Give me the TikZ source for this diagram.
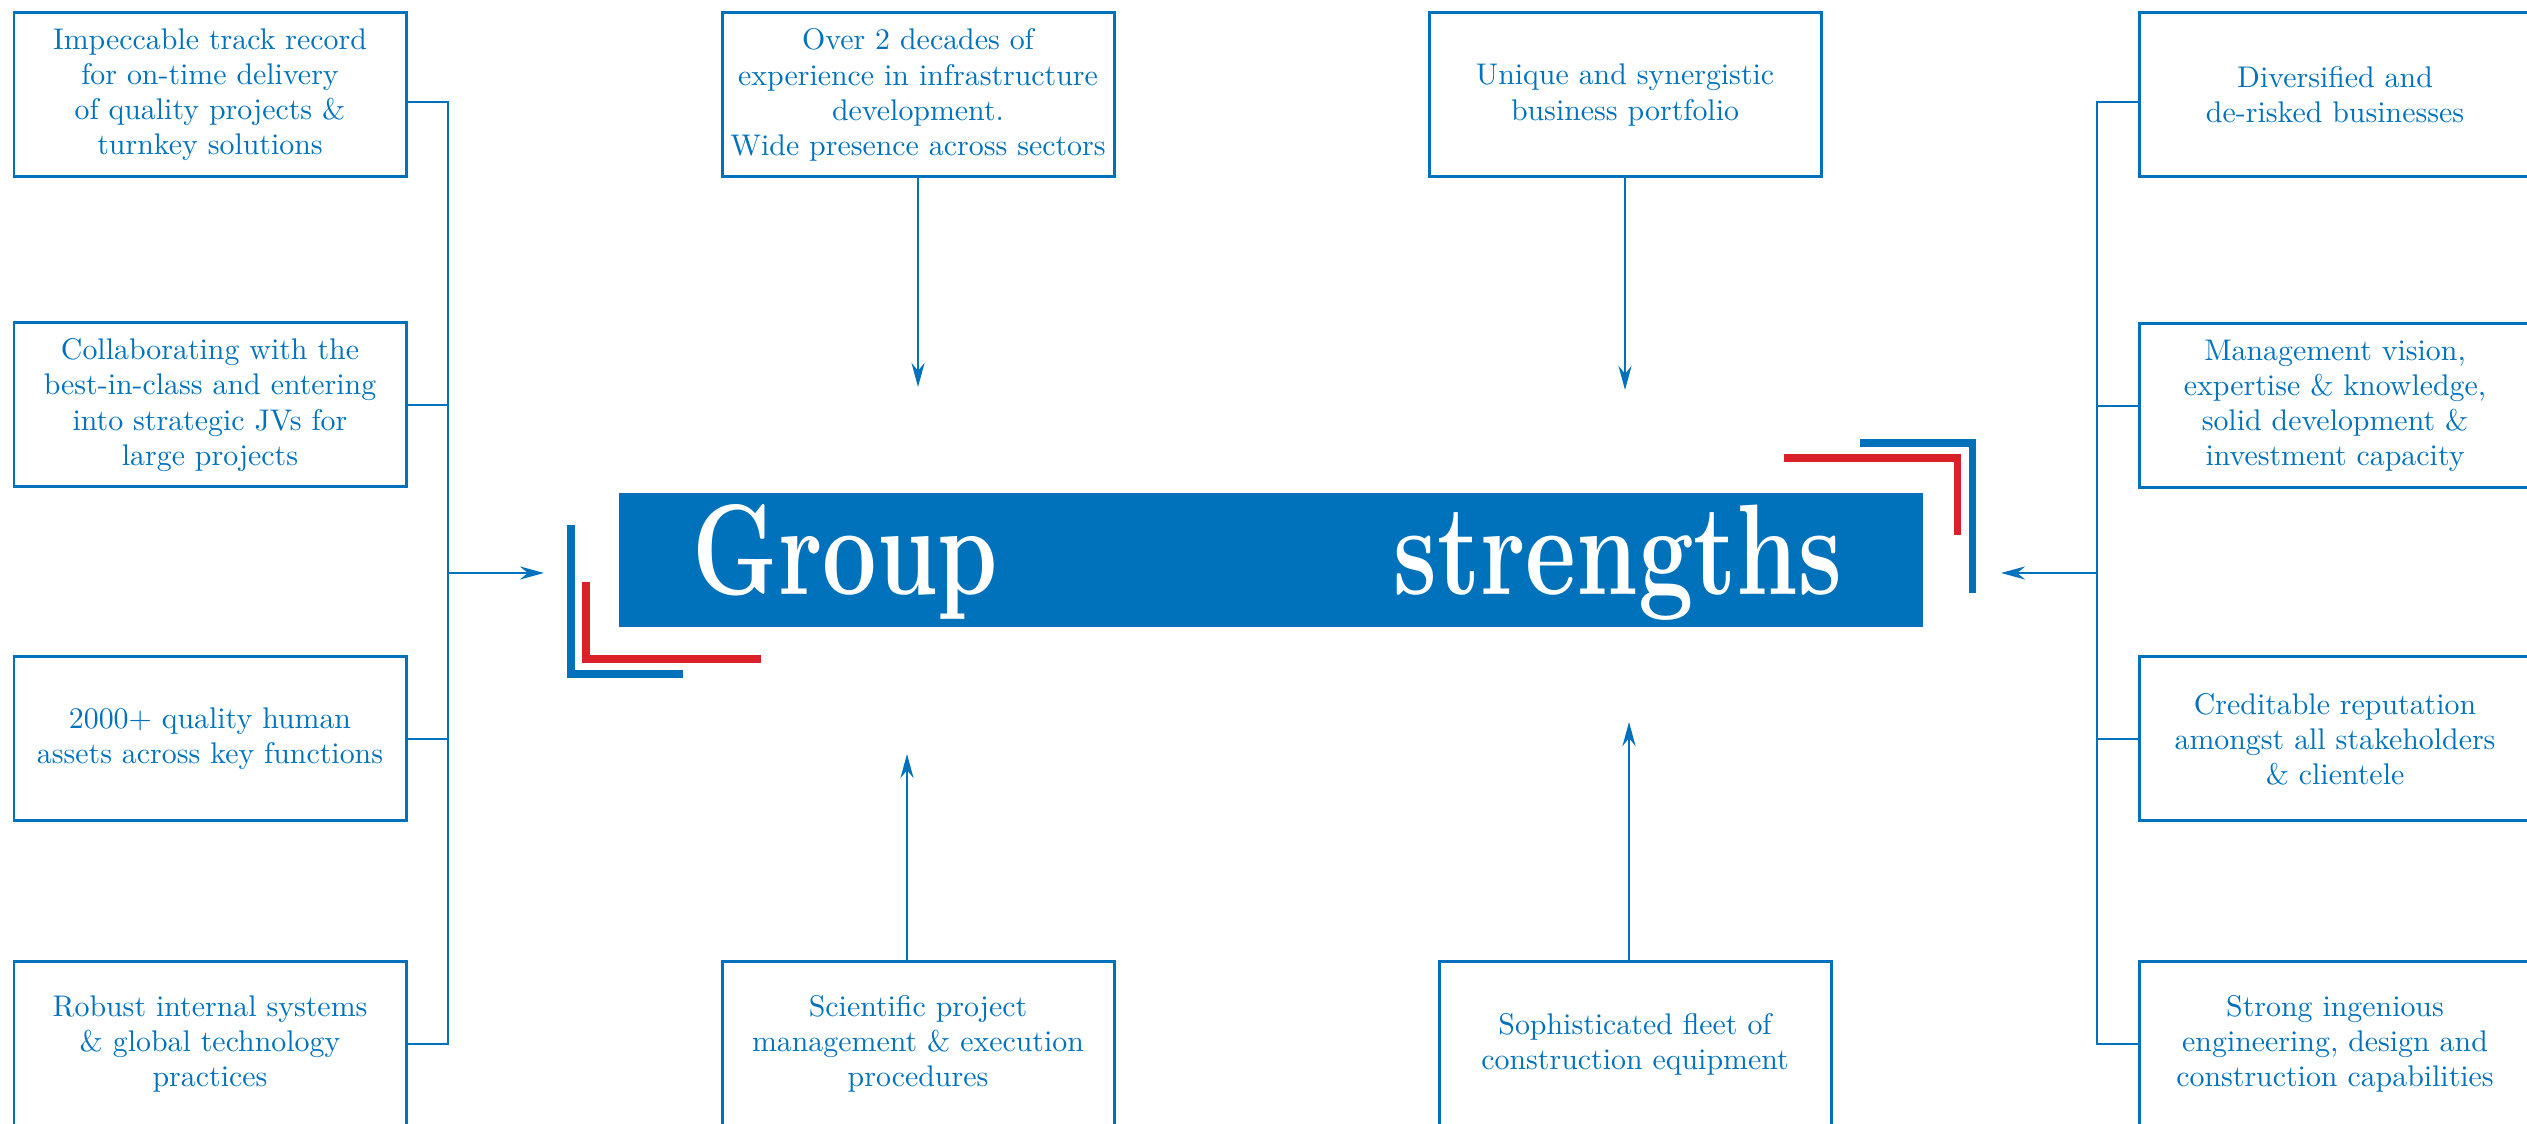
\documentclass[tikz,border=0pt]{standalone}
\usepackage{fontspec}
\usetikzlibrary{arrows.meta}
\newfontfamily\boxfont{lmroman10-regular.otf}
\definecolor{grpblue}{RGB}{0,114,188}
\definecolor{grpred}{RGB}{218,32,40}
\tikzset{
    fact/.style={draw=grpblue, line width=0.85pt, text=grpblue, minimum width=3.92cm, minimum height=1.64cm, inner sep=0pt, align=center, font=\boxfont\fontsize{8.5}{10}\selectfont},
    link/.style={draw=grpblue, line width=0.7pt},
    bracketline/.style={line width=2.1pt, line join=miter},
    bigword/.style={text=white, inner sep=0pt, font=\fontsize{36.7}{40}\selectfont\bfseries}
}
\begin{document}
\begin{tikzpicture}[>={Stealth[length=0.24cm,width=0.13cm]}]
        \useasboundingbox (0,0) rectangle (25.27,11.24);
        \node [fact] (track) at (2.10,10.29) {Impeccable track record\\for on-time delivery\\of quality projects \&\\turnkey solutions};
        \node [fact] (collab) at (2.10,7.19) {Collaborating with the\\best-in-class and entering\\into strategic JVs for\\large projects};
        \node [fact] (people) at (2.10,3.85) {2000+ quality human\\assets across key functions};
        \node [fact] (systems) at (2.10,0.80) {Robust internal systems\\\& global technology\\practices};
        \node [fact] (exp) at (9.18,10.29) {Over 2 decades of\\experience in infrastructure\\development.\\Wide presence across sectors};
        \node [fact] (portfolio) at (16.25,10.29) {Unique and synergistic\\business portfolio};
        \node [fact] (sci) at (9.18,0.80) {Scientific project\\management \& execution\\procedures};
        \node [fact] (fleet) at (16.35,0.80) {Sophisticated fleet of\\construction equipment};
        \node [fact] (diverse) at (23.35,10.29) {Diversified and\\de-risked businesses};
        \node [fact] (vision) at (23.35,7.18) {Management vision,\\expertise \& knowledge,\\solid development \&\\investment capacity};
        \node [fact] (repute) at (23.35,3.85) {Creditable reputation\\amongst all stakeholders\\\& clientele};
        \node [fact] (design) at (23.35,0.80) {Strong ingenious\\engineering, design and\\construction capabilities};
        \node [fill=grpblue, minimum width=13.035cm, minimum height=1.34cm, inner sep=0pt] (bar) at (12.71,5.64) {};
        \node [bigword, anchor=base west] (group) at (6.92,5.29) {\scalebox{0.75}[1]{Group}};
        \node [bigword, anchor=base east] (strengths) at (18.43,5.29) {\scalebox{0.765}[1]{strengths}};
        \draw [bracketline, grpblue] (5.71,5.99) -- (5.71,4.50) -- (6.83,4.50);
        \draw [bracketline, grpred] (5.86,5.42) -- (5.86,4.65) -- (7.61,4.65);
        \draw [bracketline, grpblue] (18.60,6.81) -- (19.725,6.81) -- (19.725,5.31);
        \draw [bracketline, grpred] (17.84,6.66) -- (19.575,6.66) -- (19.575,5.885);
        \coordinate (lhub) at (4.48,5.51);
        \coordinate (lend) at (5.44,5.51);
        \coordinate (rhub) at (20.97,5.51);
        \coordinate (rend) at (20.01,5.51);
        \draw [link] ([yshift=-0.07cm]track.east) -| (lhub) |- (systems.east);
        \draw [link] (collab.east) -- (collab.east -| lhub);
        \draw [link] (people.east) -- (people.east -| lhub);
        \draw [link, ->] (lhub) -- (lend);
        \draw [link] ([yshift=-0.07cm]diverse.west) -| (rhub) |- (design.west);
        \draw [link] (vision.west) -- (vision.west -| rhub);
        \draw [link] (repute.west) -- (repute.west -| rhub);
        \draw [link, ->] (rhub) -- (rend);
        \coordinate (exptip) at (9.18,7.37);
        \coordinate (porttip) at (16.25,7.34);
        \coordinate (scitip) at (9.07,3.70);
        \coordinate (fleettip) at (16.29,4.02);
        \draw [link, ->] (exp) -- (exptip);
        \draw [link, ->] (portfolio) -- (porttip);
        \draw [link, ->] (scitip |- sci.north) -- (scitip);
        \draw [link, ->] (fleettip |- fleet.north) -- (fleettip);
    \end{tikzpicture}
\end{document}
